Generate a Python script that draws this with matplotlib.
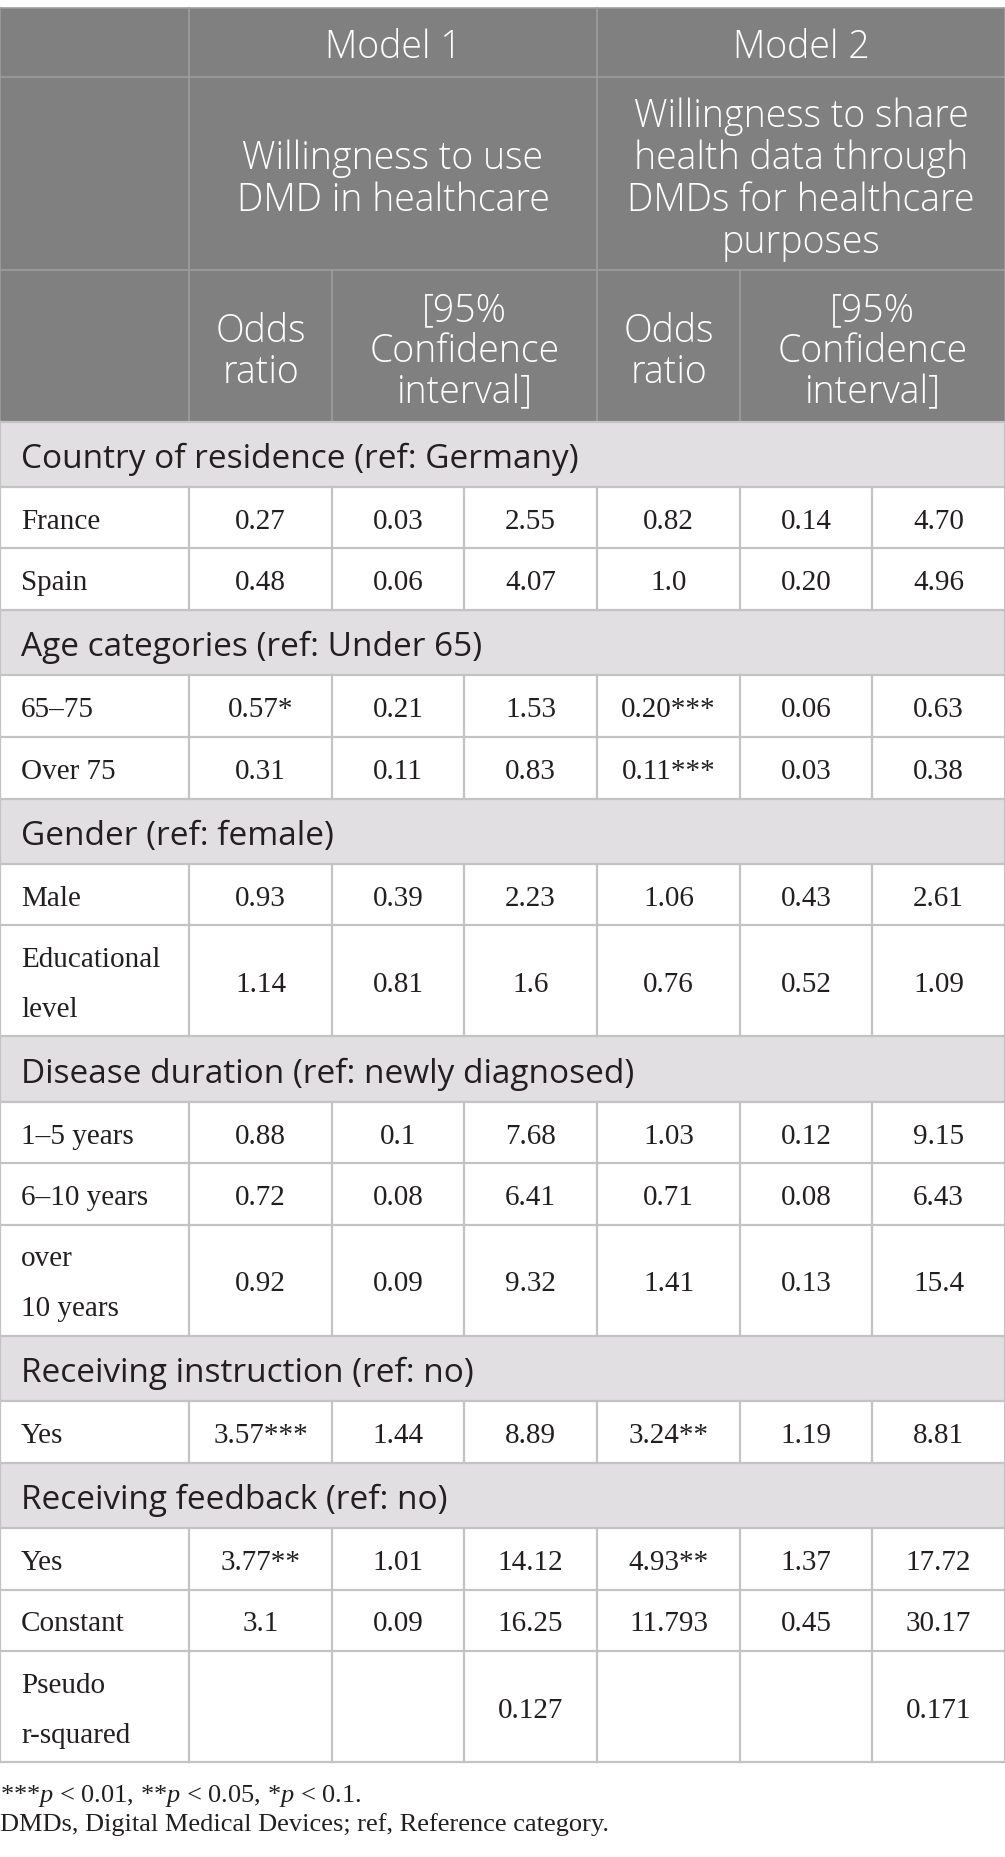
import matplotlib.pyplot as plt
from matplotlib.patches import Rectangle

plt.rcParams['mathtext.fontset'] = 'custom'
plt.rcParams['mathtext.rm'] = 'Liberation Serif'
plt.rcParams['mathtext.it'] = 'Liberation Serif:italic'

# ---- data ----
section_titles = [
    "Country of residence (ref: Germany)",
    "Age categories (ref: Under 65)",
    "Gender (ref: female)",
    "Disease duration (ref: newly diagnosed)",
    "Receiving instruction (ref: no)",
    "Receiving feedback (ref: no)",
]
row_labels = ["France", "Spain", "65–75", "Over 75", "Male", "Educational\nlevel",
              "1–5 years", "6–10 years", "over\n10 years", "Yes", "Yes", "Constant",
              "Pseudo\nr-squared"]
row_section = [0, 0, 1, 1, 2, 2, 3, 3, 3, 4, 5, 5, 5]
m1_or = ["0.27", "0.48", "0.57*", "0.31", "0.93", "1.14", "0.88", "0.72", "0.92",
         "3.57***", "3.77**", "3.1", ""]
m1_lo = ["0.03", "0.06", "0.21", "0.11", "0.39", "0.81", "0.1", "0.08", "0.09",
         "1.44", "1.01", "0.09", ""]
m1_hi = ["2.55", "4.07", "1.53", "0.83", "2.23", "1.6", "7.68", "6.41", "9.32",
         "8.89", "14.12", "16.25", "0.127"]
m2_or = ["0.82", "1.0", "0.20***", "0.11***", "1.06", "0.76", "1.03", "0.71", "1.41",
         "3.24**", "4.93**", "11.793", ""]
m2_lo = ["0.14", "0.20", "0.06", "0.03", "0.43", "0.52", "0.12", "0.08", "0.13",
         "1.19", "1.37", "0.45", ""]
m2_hi = ["4.70", "4.96", "0.63", "0.38", "2.61", "1.09", "9.15", "6.43", "15.4",
         "8.81", "17.72", "30.17", "0.171"]

model_titles = ["Model 1", "Model 2"]
model_outcomes = ["Willingness to use\nDMD in healthcare",
                  "Willingness to share\nhealth data through\nDMDs for healthcare\npurposes"]
sub_heads = ["Odds\nratio", "[95%\nConfidence\ninterval]"]
footnotes = [r"***$\mathit{p}$ < 0.01, **$\mathit{p}$ < 0.05, *$\mathit{p}$ < 0.1.",
             "DMDs, Digital Medical Devices; ref, Reference category."]

# ---- layout / style ----
W, H = 1005, 1857
col_x = [0, 189, 332, 464, 597, 740, 872, 1005]
y_top = 8
head_h = [69, 193, 151.5]
sec_h, single_h, double_h = 65.3, 61.6, 111

HEAD_BG = "#808080"
HEAD_LINE = "#9e9e9e"
SEC_BG = "#e1dfe1"
GRID = "#c3c3c3"
TXT = "#231f20"

head_font = dict(family=["Open Sans", "DejaVu Sans"], weight="light", size=27, color="white")
sec_font = dict(family=["Open Sans", "DejaVu Sans"], size=24, color=TXT)
cell_font = dict(family=["Liberation Serif", "DejaVu Serif"], size=21, color=TXT)
foot_font = dict(family=["Liberation Serif", "DejaVu Serif"], size=19, color=TXT)

fig = plt.figure(figsize=(W / 100, H / 100), dpi=100)
ax = fig.add_axes([0, 0, 1, 1])
ax.set_xlim(0, W)
ax.set_ylim(H, 0)
ax.axis("off")


def lines_text(x, yc, s, spacing, ha="center", **kw):
    parts = s.split("\n")
    n = len(parts)
    for i, p in enumerate(parts):
        ax.text(x, yc + (i - (n - 1) / 2) * spacing, p, ha=ha, va="center_baseline", **kw)


# header
hy = [y_top]
for h in head_h:
    hy.append(hy[-1] + h)
ax.add_patch(Rectangle((0, hy[0]), W, hy[-1] - hy[0], color=HEAD_BG, lw=0))
for y in hy:
    ax.plot([0, W], [y, y], color=HEAD_LINE, lw=1.2)
for x in [0, col_x[1], col_x[4], W]:
    ax.plot([x, x], [hy[0], hy[-1]], color=HEAD_LINE, lw=1.2)
for x in [col_x[2], col_x[5]]:
    ax.plot([x, x], [hy[2], hy[3]], color=HEAD_LINE, lw=1.2)

for m in range(2):
    x0, x1, x2 = col_x[1 + 3 * m], col_x[2 + 3 * m], col_x[4 + 3 * m]
    lines_text((x0 + x2) / 2, (hy[0] + hy[1]) / 2 + 1, model_titles[m], 42, **head_font)
    lines_text((x0 + x2) / 2, (hy[1] + hy[2]) / 2 + 2, model_outcomes[m], 42, **head_font)
    lines_text((x0 + x1) / 2, (hy[2] + hy[3]) / 2 + 2, sub_heads[0], 41, **head_font)
    lines_text((x1 + x2) / 2, (hy[2] + hy[3]) / 2 + 2, sub_heads[1], 41, **head_font)

# body
y = hy[-1]
prev_sec = -1
cols = [m1_or, m1_lo, m1_hi, m2_or, m2_lo, m2_hi]
for i, lab in enumerate(row_labels):
    if row_section[i] != prev_sec:
        prev_sec = row_section[i]
        ax.add_patch(Rectangle((0, y), W, sec_h, color=SEC_BG, lw=0))
        ax.plot([0, W], [y, y], color=GRID, lw=1.6)
        ax.plot([0, 0], [y, y + sec_h], color=GRID, lw=1.6)
        ax.plot([W, W], [y, y + sec_h], color=GRID, lw=1.6)
        ax.text(21, y + sec_h / 2 + 1, section_titles[prev_sec], ha="left",
                va="center_baseline", **sec_font)
        y += sec_h
    rh = double_h if "\n" in lab else single_h
    ax.plot([0, W], [y, y], color=GRID, lw=1.6)
    for x in col_x:
        ax.plot([x, x], [y, y + rh], color=GRID, lw=1.6)
    yc = y + rh / 2 + 1
    lines_text(21, yc, lab, 50, ha="left", **cell_font)
    for c, vals in enumerate(cols):
        if vals[i]:
            ax.text((col_x[c + 1] + col_x[c + 2]) / 2, yc, vals[i], ha="center",
                    va="center_baseline", **cell_font)
    y += rh
ax.plot([0, W], [y, y], color=GRID, lw=1.6)

# footnotes
ax.text(0, y + 40, footnotes[0], ha="left", va="baseline", **foot_font)
ax.text(0, y + 69, footnotes[1], ha="left", va="baseline", **foot_font)

fig.savefig("out.png", dpi=100)
